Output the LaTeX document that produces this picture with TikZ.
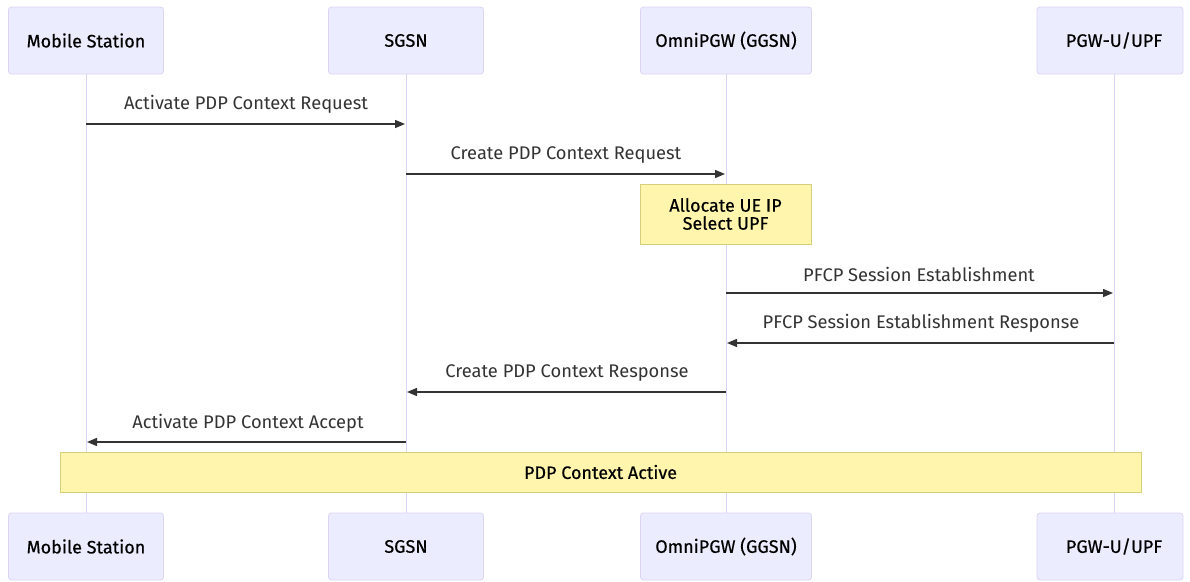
\documentclass[tikz,border=0pt]{standalone}
\usepackage{fontspec}
\setmainfont{Fira Sans}
\newfontfamily\actfont[FakeBold=0.5]{Fira Sans}
\usetikzlibrary{arrows.meta}
\definecolor{actfill}{HTML}{ECECFF}
\definecolor{actline}{HTML}{DCD4F5}
\definecolor{notefill}{HTML}{FFF5AD}
\definecolor{noteline}{HTML}{D4CF7A}
\definecolor{txt}{HTML}{333333}
\tikzset{
  actor/.style={draw=actline, fill=actfill, line width=0.8pt, rounded corners=3pt,
    minimum width=155pt, minimum height=67pt, inner sep=0pt, font=\actfont\fontsize{18}{21}\selectfont, text=black},
  lifeline/.style={draw=actline, line width=1pt},
  msg/.style={draw=txt, line width=1.4pt, -{Triangle[length=10pt,width=8pt]}},
  msglabel/.style={font=\fontsize{18.3}{21}\selectfont, text=txt, inner sep=0pt},
  notebox/.style={draw=noteline, fill=notefill, line width=0.8pt, inner sep=0pt,
    font=\actfont\fontsize{18}{18}\selectfont, text=black, align=center},
}
\begin{document}
\begin{tikzpicture}[x=1pt,y=-1pt]
\useasboundingbox (0,0) rectangle (1190,581);
% lifelines
\coordinate (l1t) at (86,74);   \coordinate (l1b) at (86,513);
\coordinate (l2t) at (406,74);  \coordinate (l2b) at (406,513);
\coordinate (l3t) at (726,74);  \coordinate (l3b) at (726,513);
\coordinate (l4t) at (1114,74); \coordinate (l4b) at (1114,513);
\draw[lifeline] (l1t) -- (l1b);
\draw[lifeline] (l2t) -- (l2b);
\draw[lifeline] (l3t) -- (l3b);
\draw[lifeline] (l4t) -- (l4b);
% actors
\node[actor] (a1) at (86,40.5) {Mobile Station};
\node[actor] (a2) at (406,40.5) {SGSN};
\node[actor, minimum width=171pt] (a3) at (726,40.5) {OmniPGW (GGSN)};
\node[actor, minimum width=146pt] (a4) at (1110,40.5) {\hspace{8pt}PGW-U/UPF};
\node[actor] (b1) at (86,546.5) {Mobile Station};
\node[actor] (b2) at (406,546.5) {SGSN};
\node[actor, minimum width=171pt] (b3) at (726,546.5) {OmniPGW (GGSN)};
\node[actor, minimum width=146pt] (b4) at (1110,546.5) {\hspace{8pt}PGW-U/UPF};
% message endpoints
\coordinate (m1s) at (86,124);   \coordinate (m1e) at (405,124);
\coordinate (m2s) at (406,174);  \coordinate (m2e) at (725,174);
\coordinate (m3s) at (726,293);  \coordinate (m3e) at (1113,293);
\coordinate (m4s) at (1114,343); \coordinate (m4e) at (727,343);
\coordinate (m5s) at (726,392);  \coordinate (m5e) at (407,392);
\coordinate (m6s) at (406,442);  \coordinate (m6e) at (87,442);
\draw[msg] (m1s) -- (m1e);
\draw[msg] (m2s) -- (m2e);
\draw[msg] (m3s) -- (m3e);
\draw[msg] (m4s) -- (m4e);
\draw[msg] (m5s) -- (m5e);
\draw[msg] (m6s) -- (m6e);
\node[msglabel] (t1) at (246,104) {Activate PDP Context Request};
\node[msglabel] (t2) at (566,155) {Create PDP Context Request};
\node[msglabel] (t3) at (919,274) {PFCP Session Establishment};
\node[msglabel] (t4) at (921,323) {PFCP Session Establishment Response};
\node[msglabel] (t5) at (567,373) {Create PDP Context Response};
\node[msglabel] (t6) at (248,423) {Activate PDP Context Accept};
% notes
\node[notebox, minimum width=171pt, minimum height=60pt] (n1) at (725.5,214) {Allocate UE IP\\Select UPF};
\node[notebox, minimum width=1081pt, minimum height=40pt] (n2) at (600.5,472) {PDP Context Active};
\end{tikzpicture}
\end{document}
